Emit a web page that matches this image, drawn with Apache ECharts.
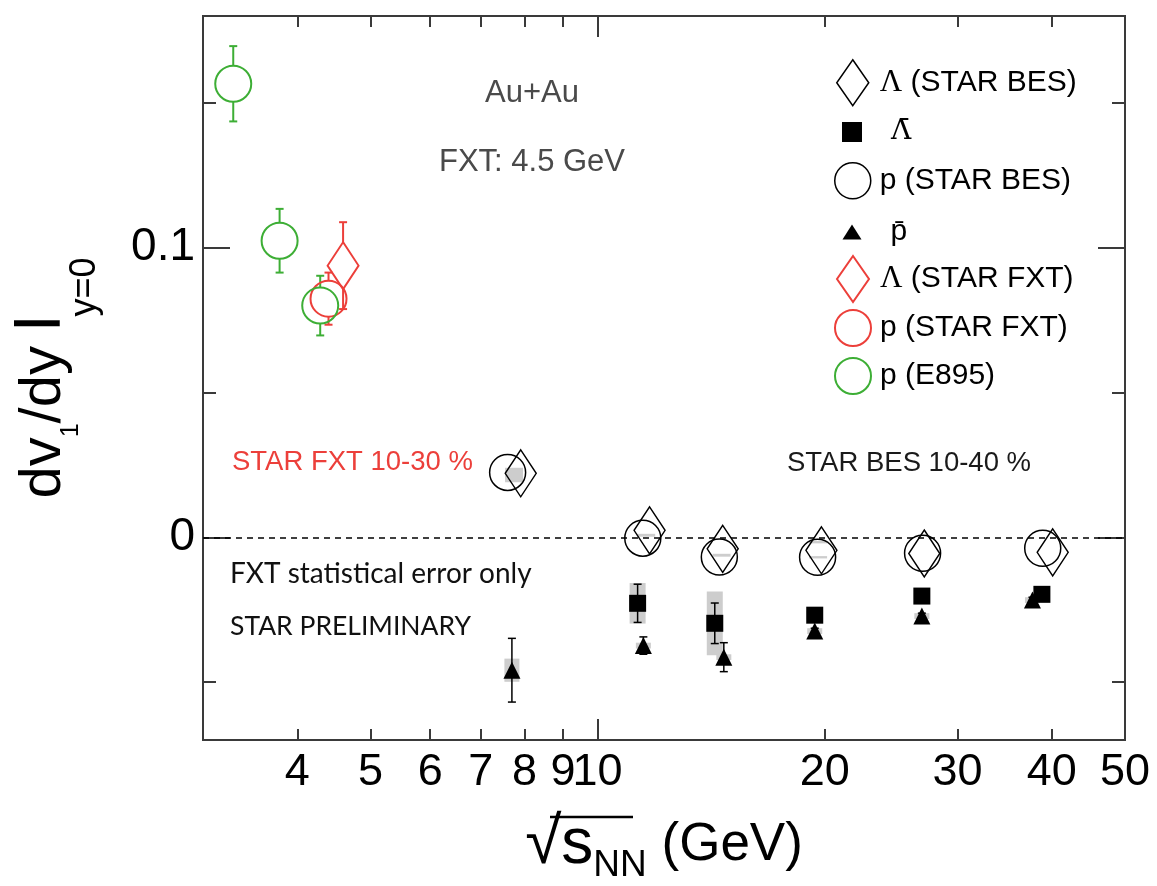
<!DOCTYPE html>
<html>
<head>
<meta charset="utf-8">
<script src="https://cdn.jsdelivr.net/npm/echarts@6/dist/echarts.min.js"></script>
<style>
  html, body { margin: 0; padding: 0; background: #fff; }
  #chart { width: 1157px; height: 886px; }
</style>
</head>
<body>
<div id="chart"></div>
<script>
// ---- data: collision energy sqrt(sNN) in GeV and directed-flow slope dv1/dy ----
// STAR BES, 10-40 %
const pBesEnergy   = [7.6, 11.48, 14.5, 19.57, 26.96, 38.9];
const pBesSlope    = [0.0224, -0.0003, -0.0068, -0.0069, -0.0055, -0.0038];
const lamBesEnergy = [7.91, 11.72, 14.65, 19.8, 27.1, 40.1];
const lamBesSlope  = [0.0221, 0.0024, -0.0040, -0.0045, -0.0056, -0.0052];
const lamBarEnergy = [11.3, 14.3, 19.4, 26.9, 38.8];
const lamBarSlope  = [-0.0228, -0.0297, -0.0269, -0.0203, -0.0197];
const lamBarStat   = [0.0066, 0.0070, 0.0015, 0.0010, 0.0010];
const lamBarSys    = [0.0070, 0.0110, 0.0015, 0.0010, 0.0010];
const pBarEnergy   = [7.7, 11.5, 14.7, 19.4, 26.9, 37.7];
const pBarSlope    = [-0.0459, -0.0374, -0.0414, -0.0324, -0.0272, -0.0217];
const pBarStat     = [0.0110, 0.0030, 0.0050, 0.0010, 0.0010, 0.0010];
const pBarSys      = [0.0040, 0.0010, 0.0010, 0.0010, 0.0010, 0.0010];
// systematic bands of the BES p / Lambda points
const besSysEnergy = [7.75, 11.6, 14.6, 19.6, 19.6];
const besSysSlope  = [0.0215, 0.0007, -0.0062, -0.0017, -0.0069];
const besSysHalf   = [0.0025, 0.0005, 0.0005, 0.0004, 0.0004];
// STAR FXT 4.5 GeV, 10-30 %
const pFxtEnergy   = [4.4];
const pFxtSlope    = [0.0824];
const pFxtStat     = [0.0090];
const lamFxtEnergy = [4.6];
const lamFxtSlope  = [0.0938];
const lamFxtStat   = [0.0150];
// E895
const e895Energy   = [3.29, 3.79, 4.29];
const e895Slope    = [0.1566, 0.1024, 0.0800];
const e895Stat     = [0.0130, 0.0110, 0.0103];

// ---- axis ticks ----
const xMinorTicks = [4, 5, 6, 7, 8, 9, 20, 30, 40];
const xMajorTicks = [10];
const xTickLabels = [4, 5, 6, 7, 8, 9, 10, 20, 30, 40, 50];
const yMinorTicks = [-0.05, 0.05, 0.15];
const yMajorTicks = [0, 0.1];
const yTickLabels = [0, 0.1];

const lg = Math.log10;
const X_MIN = lg(3), X_MAX = lg(50);
const Y_MIN = -0.07, Y_MAX = 0.18;

const RED = '#ec3f3a', GREEN = '#3dae35', INK = '#000000', AXIS = '#3a3a3a';
const FONT = '"Liberation Sans", Arial, Helvetica, sans-serif';

const pts = (xs, ys) => xs.map((e, i) => [lg(e), ys[i]]);

function errorBars(xs, ys, errs, color, gap, width) {
  return {
    type: 'custom', silent: true, z: 3,
    data: xs.map((e, i) => [lg(e), ys[i], errs[i]]),
    encode: { x: 0, y: 1 },
    renderItem(params, api) {
      const x = api.value(0), y = api.value(1), err = api.value(2);
      const c = api.coord([x, y]);
      const top = api.coord([x, y + err])[1];
      const bot = api.coord([x, y - err])[1];
      const st = { stroke: color, lineWidth: width };
      const cap = 4;
      const ch = [];
      if (c[1] - gap > top) {
        ch.push({ type: 'line', shape: { x1: c[0], y1: top, x2: c[0], y2: c[1] - gap }, style: st });
        ch.push({ type: 'line', shape: { x1: c[0] - cap, y1: top, x2: c[0] + cap, y2: top }, style: st });
      }
      if (bot > c[1] + gap) {
        ch.push({ type: 'line', shape: { x1: c[0], y1: c[1] + gap, x2: c[0], y2: bot }, style: st });
        ch.push({ type: 'line', shape: { x1: c[0] - cap, y1: bot, x2: c[0] + cap, y2: bot }, style: st });
      }
      return { type: 'group', children: ch };
    }
  };
}

function sysBoxes(xs, ys, halves, boxWidth) {
  return {
    type: 'custom', silent: true, z: 1,
    data: xs.map((e, i) => [lg(e), ys[i], halves[i]]),
    encode: { x: 0, y: 1 },
    renderItem(params, api) {
      const x = api.value(0), y = api.value(1), h = api.value(2);
      const c = api.coord([x, y]);
      const top = api.coord([x, y + h])[1];
      const bot = api.coord([x, y - h])[1];
      return {
        type: 'rect',
        shape: { x: c[0] - boxWidth / 2, y: top, width: boxWidth, height: Math.max(bot - top, 2) },
        style: { fill: '#cdcdcd' }
      };
    }
  };
}

const hollow = (color, w) => ({ color: 'rgba(0,0,0,0)', borderColor: color, borderWidth: w, opacity: 1 });
const solid = color => ({ color: color, opacity: 1 });

const chart = echarts.init(document.getElementById('chart'), null, { renderer: 'canvas' });

const baseX = (pos, tickLen, ticks, extra) => Object.assign({
  type: 'value', position: pos, min: X_MIN, max: X_MAX,
  axisLine: { show: true, onZero: false, lineStyle: { color: AXIS, width: 2 } },
  axisTick: { show: true, inside: true, length: tickLen, customValues: ticks.map(lg),
              lineStyle: { color: AXIS, width: 2 } },
  axisLabel: { show: false },
  splitLine: { show: false }
}, extra || {});

const baseY = (pos, tickLen, ticks, extra) => Object.assign({
  type: 'value', position: pos, min: Y_MIN, max: Y_MAX,
  axisLine: { show: true, onZero: false, lineStyle: { color: AXIS, width: 2 } },
  axisTick: { show: true, inside: true, length: tickLen, customValues: ticks,
              lineStyle: { color: AXIS, width: 2 } },
  axisLabel: { show: false },
  splitLine: { show: false }
}, extra || {});

// one legend block per entry so every marker keeps its own size
const legendEntries = [
  { name: 'Λ (STAR BES)', icon: 'diamond',  w: 32, h: 46, style: hollow(INK, 1.5), cy: 77,  pad: 6 },
  { name: 'Λ̄',            icon: 'rect',     w: 20, h: 20, style: solid(INK),       cy: 127, pad: 24 },
  { name: 'p (STAR BES)', icon: 'circle',   w: 36, h: 36, style: hollow(INK, 1.5), cy: 175, pad: 4 },
  { name: 'p̄',            icon: 'triangle', w: 19, h: 15, style: solid(INK),       cy: 227, pad: 24 },
  { name: 'Λ (STAR FXT)', icon: 'diamond',  w: 32, h: 46, style: hollow(RED, 2),   cy: 273, pad: 6 },
  { name: 'p (STAR FXT)', icon: 'circle',   w: 36, h: 36, style: hollow(RED, 2),   cy: 322, pad: 4 },
  { name: 'p (E895)',     icon: 'circle',   w: 36, h: 36, style: hollow(GREEN, 2), cy: 370, pad: 4 }
];
const LEG_CX = 847, LEG_LINE = 34;

const legends = legendEntries.map(e => ({
  selectedMode: false,
  left: LEG_CX - e.w / 2,
  top: e.cy - Math.max(e.h, LEG_LINE) / 2,
  itemWidth: e.w, itemHeight: e.h,
  data: [{ name: e.name, icon: e.icon, itemStyle: e.style }],
  formatter: n => n.replace('Λ̄', '{gb|Λ̄}').replace(/^Λ /, '{g|Λ} '),
  textStyle: {
    fontFamily: FONT, fontSize: 30, color: INK, lineHeight: LEG_LINE,
    padding: [0, 0, 0, e.pad],
    rich: {
      g: { fontFamily: '"Liberation Serif", "DejaVu Serif", serif', fontSize: 31, lineHeight: LEG_LINE, color: INK },
      gb: { fontFamily: '"DejaVu Serif", serif', fontSize: 28, lineHeight: LEG_LINE, color: INK }
    }
  }
}));

const option = {
  backgroundColor: '#ffffff',
  animation: false,
  grid: { left: 203, right: 32, top: 16, bottom: 146, containLabel: false, outerBoundsMode: 'none' },
  legend: legends,
  xAxis: [
    baseX('bottom', 11, xMinorTicks, {
      name: '{r|√}{s|s}{sub|NN}{t| (GeV)}',
      nameLocation: 'middle', nameGap: 67,
      nameTextStyle: {
        color: INK, fontFamily: FONT,
        rich: {
          r: { fontFamily: '"DejaVu Sans", sans-serif', fontSize: 66, fontWeight: 'lighter', color: INK },
          s: { fontFamily: FONT, fontSize: 64, color: INK },
          sub: { fontFamily: FONT, fontSize: 37, color: INK, padding: [40, 0, 0, 0] },
          t: { fontFamily: FONT, fontSize: 53, color: INK }
        }
      },
      axisLabel: {
        show: true, customValues: xTickLabels.map(lg), margin: 10,
        fontFamily: FONT, fontSize: 45, color: INK,
        formatter: v => String(Math.round(Math.pow(10, v)))
      }
    }),
    baseX('bottom', 21, xMajorTicks),
    baseX('top', 11, xMinorTicks),
    baseX('top', 21, xMajorTicks)
  ],
  yAxis: [
    baseY('left', 13, yMinorTicks, {
      name: 'dv{sub|1}/dy {bar||}{suby|y=0}',
      nameLocation: 'middle', nameGap: 100, nameRotate: 90,
      nameTextStyle: {
        color: INK, fontFamily: FONT, fontSize: 58,
        rich: {
          sub: { fontFamily: FONT, fontSize: 25, color: INK, padding: [56, 0, 0, 0] },
          bar: { fontFamily: FONT, fontSize: 48, fontWeight: 'bold', color: INK, padding: [0, 0, 16, 0] },
          suby: { fontFamily: FONT, fontSize: 36, color: INK, padding: [83, 0, 0, 0] }
        }
      },
      axisLabel: {
        show: true, customValues: yTickLabels, margin: 8,
        fontFamily: FONT, fontSize: 46, color: INK,
        formatter: v => (Math.abs(v) < 1e-9 ? '0' : String(+v.toFixed(2)))
      }
    }),
    baseY('left', 27, yMajorTicks),
    baseY('right', 13, yMinorTicks),
    baseY('right', 27, yMajorTicks)
  ],
  graphic: [
    { type: 'text', x: 532, y: 93, silent: true,
      style: { text: 'Au+Au', font: '31px ' + FONT, fill: '#4a4a4a', align: 'center', verticalAlign: 'middle' } },
    { type: 'text', x: 532, y: 162, silent: true,
      style: { text: 'FXT: 4.5 GeV', font: '31px ' + FONT, fill: '#4a4a4a', align: 'center', verticalAlign: 'middle' } },
    { type: 'text', x: 232, y: 462, silent: true,
      style: { text: 'STAR FXT 10-30 %', font: '27.5px ' + FONT, fill: RED, align: 'left', verticalAlign: 'middle' } },
    { type: 'text', x: 787, y: 463, silent: true,
      style: { text: 'STAR BES 10-40 %', font: '27.5px ' + FONT, fill: '#1a1a1a', align: 'left', verticalAlign: 'middle' } },
    { type: 'text', x: 230, y: 574, silent: true,
      style: { text: 'FXT statistical error only', font: '28px Lato, "Open Sans", sans-serif', fill: '#111', align: 'left', verticalAlign: 'middle' } },
    { type: 'text', x: 230, y: 626, silent: true,
      style: { text: 'STAR PRELIMINARY', font: '26.5px Lato, "Open Sans", sans-serif', fill: '#111', align: 'left', verticalAlign: 'middle' } },
    // overline of the square-root sign
    { type: 'line', silent: true, shape: { x1: 550, y1: 817, x2: 633, y2: 817 },
      style: { stroke: INK, lineWidth: 2.5 } }
  ],
  series: [
    sysBoxes(besSysEnergy, besSysSlope, besSysHalf, 18),
    sysBoxes(lamBarEnergy, lamBarSlope, lamBarSys, 16),
    sysBoxes(pBarEnergy, pBarSlope, pBarSys, 15),
    {
      name: 'p (STAR BES)', type: 'scatter', z: 4,
      data: pts(pBesEnergy, pBesSlope), symbol: 'circle', symbolSize: 36,
      itemStyle: hollow(INK, 1.5),
      markLine: {
        silent: true, symbol: ['none', 'none'], label: { show: false },
        lineStyle: { color: INK, width: 1.5, type: [6, 5], opacity: 1 },
        data: [{ yAxis: 0 }]
      }
    },
    {
      name: 'Λ (STAR BES)', type: 'scatter', z: 4,
      data: pts(lamBesEnergy, lamBesSlope), symbol: 'diamond', symbolSize: [31, 47],
      itemStyle: hollow(INK, 1.5)
    },
    errorBars(lamBarEnergy, lamBarSlope, lamBarStat, INK, 0, 1.5),
    {
      name: 'Λ̄', type: 'scatter', z: 4,
      data: pts(lamBarEnergy, lamBarSlope), symbol: 'rect', symbolSize: 17,
      itemStyle: solid(INK)
    },
    errorBars(pBarEnergy, pBarSlope, pBarStat, INK, 0, 1.5),
    {
      name: 'p̄', type: 'scatter', z: 4,
      data: pts(pBarEnergy, pBarSlope), symbol: 'triangle', symbolSize: [17, 17],
      itemStyle: solid(INK)
    },
    errorBars(lamFxtEnergy, lamFxtSlope, lamFxtStat, RED, 23, 2),
    {
      name: 'Λ (STAR FXT)', type: 'scatter', z: 4,
      data: pts(lamFxtEnergy, lamFxtSlope), symbol: 'diamond', symbolSize: [31, 47],
      itemStyle: hollow(RED, 2)
    },
    errorBars(pFxtEnergy, pFxtSlope, pFxtStat, RED, 18, 2),
    {
      name: 'p (STAR FXT)', type: 'scatter', z: 4,
      data: pts(pFxtEnergy, pFxtSlope), symbol: 'circle', symbolSize: 36,
      itemStyle: hollow(RED, 2)
    },
    errorBars(e895Energy, e895Slope, e895Stat, GREEN, 18, 2),
    {
      name: 'p (E895)', type: 'scatter', z: 4,
      data: pts(e895Energy, e895Slope), symbol: 'circle', symbolSize: 36,
      itemStyle: hollow(GREEN, 2)
    }
  ]
};

chart.setOption(option);
</script>
</body>
</html>
